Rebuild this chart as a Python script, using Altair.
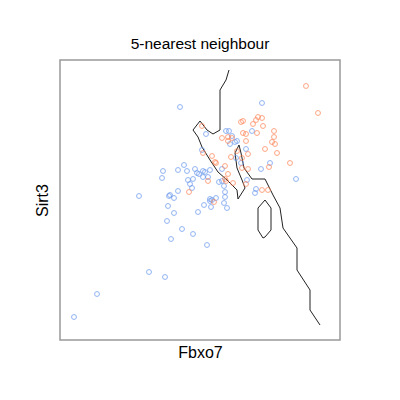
import altair as alt
import pandas as pd

# Class A (blue) points: Fbxo7, Sirt3
blue_x = [74, 97, 149, 165, 139, 180, 163, 162, 184, 178, 187, 195, 197, 193, 188, 190, 192, 178, 170, 174,
          169, 168, 174, 167, 182, 193, 171, 198, 207, 204, 210, 211, 216, 225, 224, 227, 203, 199, 205, 208,
          219, 222, 224, 225, 210, 210, 202, 206, 226, 229, 232, 230, 235, 237, 252, 246, 236, 222, 247, 255,
          256, 261, 270, 262, 296, 241, 212, 203]
blue_y = [317, 294, 272, 277, 196, 107, 171, 178, 165, 170, 171, 169, 173, 179, 180, 184, 188, 191, 195, 198,
          196, 206, 213, 221, 229, 234, 239, 212, 245, 205, 201, 207, 198, 197, 203, 208, 177, 174, 172, 177,
          182, 181, 186, 192, 170, 199, 150, 134, 131, 131, 136, 144, 142, 141, 131, 149, 158, 169, 180, 193,
          189, 169, 163, 103, 179, 163, 200, 171]

# Class B (orange) points
orange_x = [306, 318, 202, 241, 243, 258, 256, 262, 253, 263, 243, 246, 257, 274, 274, 272, 275, 277, 265, 290,
            269, 222, 228, 232, 228, 246, 248, 237, 242, 231, 212, 215, 225, 248, 228, 208, 225, 226, 233, 246,
            262, 268, 214, 189, 203, 216, 242]
orange_y = [86, 113, 126, 122, 121, 117, 120, 118, 124, 126, 133, 134, 133, 131, 137, 142, 144, 153, 149, 163,
            167, 138, 137, 138, 141, 141, 154, 151, 158, 157, 156, 162, 166, 169, 174, 181, 179, 181, 183, 184,
            190, 190, 202, 192, 153, 163, 168]

# Decision boundary (5-NN), main path
bnd_x = [229, 226, 220, 220, 213, 207, 200, 193, 198, 202, 210, 218, 227, 237, 238, 245, 242, 237, 235, 239,
         241, 244, 252, 265, 273, 280, 283, 297, 297, 310, 310, 320]
bnd_y = [70, 80, 90, 130, 134, 130, 121, 130, 137, 147, 160, 172, 180, 190, 199, 188, 180, 168, 153, 145,
         153, 168, 179, 179, 195, 208, 228, 248, 270, 290, 310, 325]
# Decision boundary, small island
isl_x = [265, 258, 258, 263, 265, 271, 271, 265]
isl_y = [200, 208, 230, 238, 237, 230, 208, 200]

pts = pd.DataFrame({
    "Fbxo7": blue_x + orange_x,
    "Sirt3": blue_y + orange_y,
    "cls": ["A"] * len(blue_x) + ["B"] * len(orange_x),
})
bnd = pd.DataFrame({
    "Fbxo7": bnd_x + isl_x,
    "Sirt3": bnd_y + isl_y,
    "seg": ["main"] * len(bnd_x) + ["island"] * len(isl_x),
    "ord": list(range(len(bnd_x))) + list(range(len(isl_x))),
})

xs = alt.Scale(domain=[60, 340], nice=False, zero=False)
ys = alt.Scale(domain=[340, 60], nice=False, zero=False)

axis_x = alt.Axis(labels=False, ticks=False, domain=False, grid=False, titleFontSize=16,
                  titleFontWeight="normal", titleFont="Liberation Sans", titlePadding=4, titleColor="black")
axis_y = alt.Axis(labels=False, ticks=False, domain=False, grid=False, titleFontSize=16,
                  titleFontWeight="normal", titleFont="Liberation Sans", titlePadding=10, titleColor="black")

points = alt.Chart(pts).mark_point(shape="circle", filled=False, size=24, strokeWidth=1).encode(
    x=alt.X("Fbxo7:Q", scale=xs, axis=axis_x, title="Fbxo7"),
    y=alt.Y("Sirt3:Q", scale=ys, axis=axis_y, title="Sirt3"),
    color=alt.Color("cls:N", scale=alt.Scale(domain=["A", "B"], range=["#6495ED", "#FF7F50"]), legend=None),
)

lines = alt.Chart(bnd).mark_line(color="#222222", strokeWidth=1).encode(
    x=alt.X("Fbxo7:Q", scale=xs),
    y=alt.Y("Sirt3:Q", scale=ys),
    detail="seg:N",
    order="ord:Q",
)

chart = alt.layer(lines, points).properties(
    width=280, height=280,
    title=alt.TitleParams("5-nearest neighbour", fontSize=15.5, fontWeight="normal",
                          font="Liberation Sans", offset=8, color="black"),
    padding={"left": 52, "top": 52, "right": 10, "bottom": 40},
    autosize="none",
).configure_view(stroke="#999999", strokeWidth=1.5)

chart.save("out.html", embed_options={"renderer": "svg", "actions": False})
